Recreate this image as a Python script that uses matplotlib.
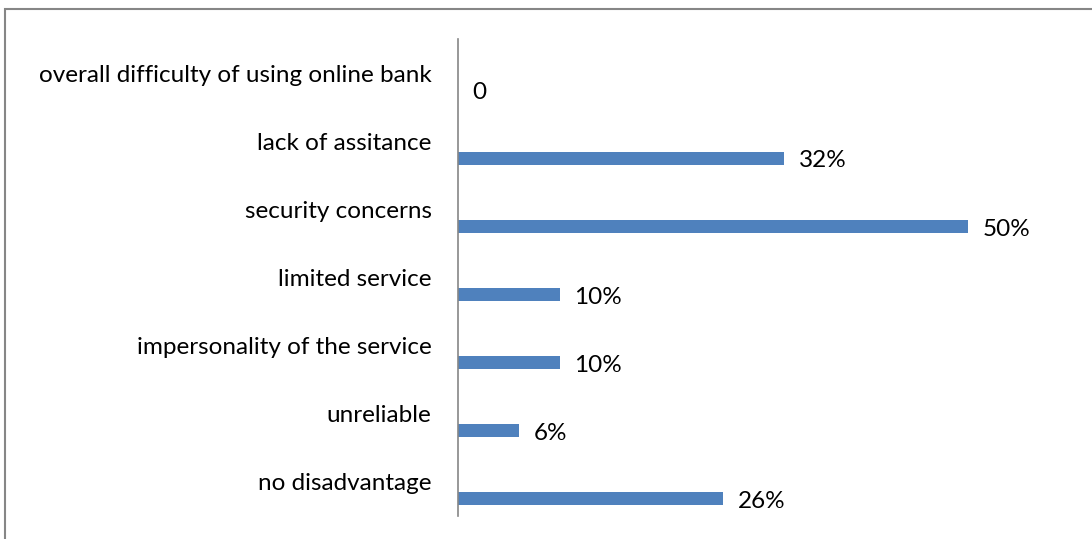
import matplotlib
matplotlib.use('Agg')
import matplotlib.pyplot as plt
from matplotlib.patches import Rectangle

categories = ['no disadvantage', 'unreliable', 'impersonality of the service',
              'limited service', 'security concerns', 'lack of assitance',
              'overall difficulty of using online bank']
values = [26, 6, 10, 10, 50, 32, 0]
labels = ['26%', '6%', '10%', '10%', '50%', '32%', '0']

plt.rcParams['font.family'] = ['Lato', 'DejaVu Sans']

fig = plt.figure(figsize=(10.92, 5.39), dpi=100)
ax = fig.add_axes([458/1092, 1 - 516/539, 0.98 - 458/1092, (516 - 39)/539])

bar_col = '#4f81bd'
ypos = list(range(len(categories)))
# bars sit in the lower half of each category slot
bar_y = [y - 0.25 for y in ypos]
ax.barh(bar_y, values, height=0.19, color=bar_col)

for y, v, t in zip(bar_y, values, labels):
    ax.text(v + 1.4, y - 0.04, t, va='center', ha='left', fontsize=17.5, color='black')

ax.set_ylim(-0.5, len(categories) - 0.5)
ax.set_xlim(0, 60)
ax.set_yticks(ypos)
ax.set_yticklabels(categories, fontsize=17.5)
ax.tick_params(axis='y', length=0, pad=19)
ax.set_xticks([])
for s in ['top', 'right', 'bottom']:
    ax.spines[s].set_visible(False)
ax.spines['left'].set_color('#868686')
ax.spines['left'].set_linewidth(1.2)

# outer chart border (top and left edges visible)
fig.patches.append(Rectangle((5/1092, -0.1), 1.2, 1 - 9/539 + 0.1,
                             transform=fig.transFigure, fill=False,
                             edgecolor='#868686', linewidth=1.5))

fig.savefig('out.png', dpi=100)
